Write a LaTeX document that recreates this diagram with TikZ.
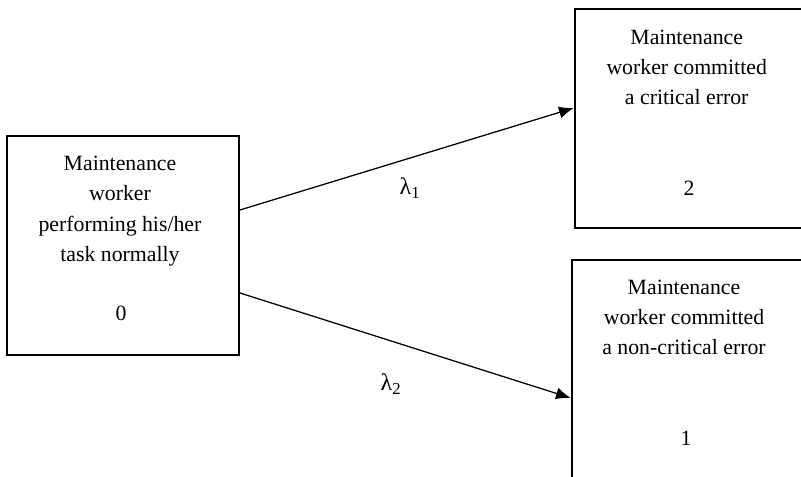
\documentclass[tikz,border=0pt]{standalone}
\usepackage{fontspec}
\setmainfont{Liberation Serif}
\usetikzlibrary{arrows.meta, calc}
\tikzset{
  state/.style={draw, line width=1.3pt, inner sep=0pt},
  label/.style={align=center, inner sep=0pt, font=\fontsize{15.5}{21.5}\selectfont},
  rate/.style={inner sep=0pt, font=\fontsize{17}{20}\selectfont},
  trans/.style={-{Latex[length=10.5pt, width=8.5pt]}, line width=0.9pt},
}

\begin{document}
\begin{tikzpicture}[x=0.025cm, y=-0.025cm]
    \useasboundingbox (0,0) rectangle (801,477);
    \clip (0,0) rectangle (801,477);
    % states
    \node[state, minimum width=5.8cm, minimum height=5.475cm] (zero) at (123,245.5) {};
    \node[state, minimum width=6cm,   minimum height=5.475cm] (two)  at (694.7,118.5) {};
    \node[state, minimum width=6cm,   minimum height=6cm]     (one)  at (691.7,380) {};
    % texts
    \node[label, anchor=north] (zerotxt) at (120,156)
      {Maintenance\\worker\\performing his/her\\task normally};
    \node[label] (zeronum) at (121,313) {0};
    \node[label, anchor=north] (twotxt) at (686.7,29.5)
      {Maintenance\\worker committed\\a critical error};
    \node[label] (twonum) at (689,188) {2};
    \node[label, anchor=north] (onetxt) at (684,279.5)
      {Maintenance\\worker committed\\a non-critical error};
    \node[label] (onenum) at (686,438) {1};
    % transitions
    \draw[trans] ($(zero.east)+(0,-35.5)$) -- ($(two.west)+(0,-10.5)$);
    \draw[trans] ($(zero.east)+(0,47.5)$) -- ($(one.west)+(0,18)$);
    \node[rate] (lamone) at (410,188) {λ\textsubscript{1}};
    \node[rate] (lamtwo) at (391,384) {λ\textsubscript{2}};
\end{tikzpicture}
\end{document}
